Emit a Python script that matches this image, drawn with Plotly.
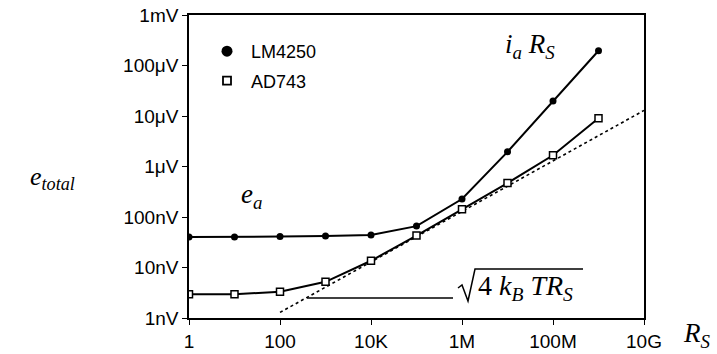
import plotly.graph_objects as go

# ---- data ----
rs_ohm = [1, 10, 100, 1e3, 1e4, 1e5, 1e6, 1e7, 1e8, 1e9]
lm4250_v = [40e-9, 40e-9, 41e-9, 42e-9, 44e-9, 66e-9, 227e-9, 1.95e-6, 19.8e-6, 196e-6]
ad743_v = [2.95e-9, 2.95e-9, 3.3e-9, 5.2e-9, 13.6e-9, 43e-9, 142e-9, 470e-9, 1.67e-6, 9.0e-6]
thermal_r = [100, 1e10]
thermal_v = [1.29e-9, 1.29e-5]

x_tickvals = [1, 100, 1e4, 1e6, 1e8, 1e10]
x_ticktext = ["1", "100", "10K", "1M", "100M", "10G"]
y_tickvals = [1e-9, 1e-8, 1e-7, 1e-6, 1e-5, 1e-4, 1e-3]
y_ticktext = ["1nV", "10nV", "100nV", "1μV", "10μV", "100μV", "1mV"]

W, H = 717, 354
L, R, T, B = 189, 644, 15, 318


def px(x):
    return (x - L) / (R - L)


def py(y):
    return (B - y) / (B - T)


SANS = "Liberation Sans, Arial, sans-serif"
SERIF = "Liberation Serif, Times New Roman, serif"

fig = go.Figure()

fig.add_trace(go.Scatter(x=thermal_r, y=thermal_v, mode="lines",
                         line=dict(color="black", width=1.6, dash="dot"),
                         showlegend=False, hoverinfo="skip"))
fig.add_trace(go.Scatter(x=rs_ohm, y=lm4250_v, mode="lines+markers",
                         line=dict(color="black", width=2),
                         marker=dict(symbol="circle", size=7, color="black"),
                         showlegend=False))
fig.add_trace(go.Scatter(x=rs_ohm, y=ad743_v, mode="lines+markers",
                         line=dict(color="black", width=2),
                         marker=dict(symbol="square", size=7, color="white",
                                     line=dict(color="black", width=1.5)),
                         showlegend=False))
# legend entries
fig.add_trace(go.Scatter(x=[None], y=[None], mode="markers", name="LM4250",
                         legendgroup="a",
                         marker=dict(symbol="circle", size=11, color="black")))
fig.add_trace(go.Scatter(x=[None], y=[None], mode="markers", name="AD743",
                         legendgroup="b",
                         marker=dict(symbol="square", size=8, color="white",
                                     line=dict(color="black", width=1.8))))

axis_common = dict(type="log", showgrid=False, zeroline=False, showline=True,
                   linecolor="black", linewidth=1.5, mirror=True, automargin=False,
                   ticks="outside", ticklen=5, tickwidth=1, tickcolor="black",
                   tickfont=dict(family=SANS, size=19, color="black"))

fig.update_xaxes(range=[0, 10], tickvals=x_tickvals, ticktext=x_ticktext, **axis_common)
fig.update_yaxes(range=[-9, -3], tickvals=y_tickvals, ticktext=y_ticktext, **axis_common)

annotations = [
    dict(text="<i>e</i><sub><i>total</i></sub>", x=px(52), y=py(178),
         font=dict(family=SERIF, size=26, color="black")),
    dict(text="<i>R</i><sub><i>S</i></sub>", x=px(697), y=py(335),
         font=dict(family=SERIF, size=27, color="black")),
    dict(text="<i>i</i><sub><i>a</i></sub> <i>R</i><sub><i>S</i></sub>", x=px(530), y=py(46),
         font=dict(family=SERIF, size=27, color="black")),
    dict(text="<i>e</i><sub><i>a</i></sub>", x=px(251), y=py(196),
         font=dict(family=SERIF, size=27, color="black")),
    dict(text="4 <i>k</i><sub><i>B</i></sub> <i>TR</i><sub><i>S</i></sub>", x=px(476), y=py(287),
         xanchor="left", font=dict(family=SERIF, size=28, color="black")),
]
for a in annotations:
    a.setdefault("xanchor", "center")
    a.update(xref="paper", yref="paper", yanchor="middle", showarrow=False)
fig.update_layout(annotations=annotations)

shapes = [
    dict(type="line", x0=px(307), x1=px(453), y0=py(298), y1=py(298),
         line=dict(color="black", width=1.5)),
    dict(type="path",
         path=f"M {px(458)},{py(288)} L {px(462)},{py(285)} L {px(468)},{py(301)} "
              f"L {px(475)},{py(269)} L {px(583)},{py(269)}",
         line=dict(color="black", width=1.5)),
]
for s in shapes:
    s.update(xref="paper", yref="paper")
fig.update_layout(shapes=shapes)

fig.update_layout(
    template="none",
    width=W, height=H,
    margin=dict(l=L, r=W - R, t=T, b=H - B, pad=0),
    paper_bgcolor="white", plot_bgcolor="white",
    showlegend=True,
    legend=dict(x=px(203), y=py(33), xanchor="left", yanchor="top",
                bgcolor="rgba(0,0,0,0)", tracegroupgap=3, itemwidth=38,
                font=dict(family=SANS, size=18, color="black")),
)

fig.write_html("out.html")
